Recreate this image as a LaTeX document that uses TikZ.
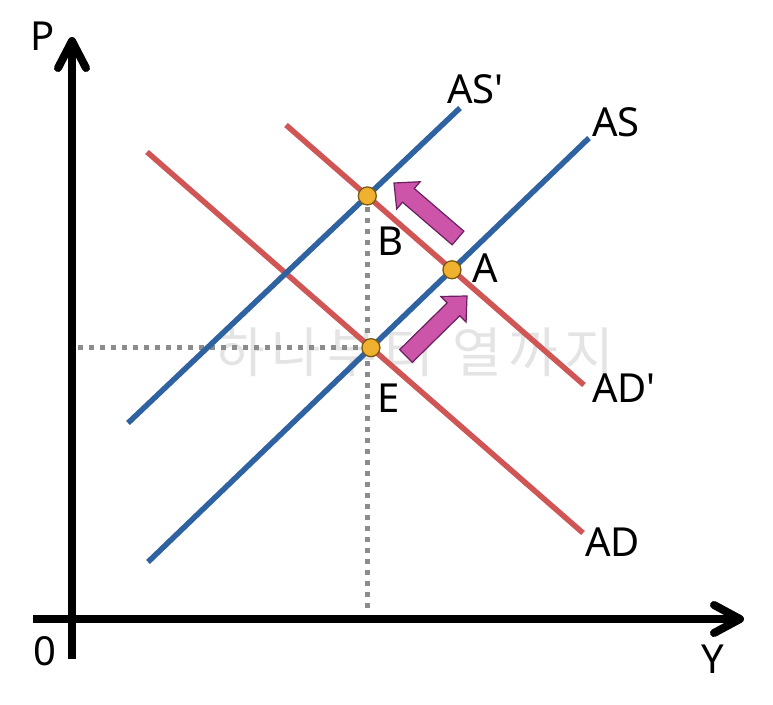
\documentclass[tikz,border=0pt]{standalone}
\usepackage{fontspec}
\setmainfont{Noto Sans}
\newfontfamily\lblfont{Noto Sans}
\newfontfamily\krfont[LetterSpace=12]{Noto Sans CJK KR}
\usetikzlibrary{calc,intersections}
\definecolor{adred}{HTML}{D05656}
\definecolor{asblue}{HTML}{2F62A0}
\definecolor{dotorange}{HTML}{F0B030}
\definecolor{dotedge}{HTML}{7A5A10}
\definecolor{arrowpink}{HTML}{CC55AA}
\definecolor{arrowedge}{HTML}{6A1F5F}
\definecolor{guide}{HTML}{8C8C8C}
\definecolor{wmgray}{HTML}{E4E4E4}
\newcommand\blockarr[2]{%
  \path (#1) coordinate (bt) (#2) coordinate (bp);
  \path ($(bp)!19pt!(bt)$) coordinate (bn);
  \draw[blockarrow] ($(bt)!9pt!90:(bp)$) -- ($(bn)!9pt!-90:(bt)$) -- ($(bn)!18pt!-90:(bt)$)
    -- (bp) -- ($(bn)!18pt!90:(bt)$) -- ($(bn)!9pt!90:(bt)$) -- ($(bt)!9pt!-90:(bp)$) -- cycle;}
\begin{document}
\begin{tikzpicture}[x=1pt,y=-1pt,
  axis/.style={line width=8pt,black},
  axishead/.style={line width=8pt,black,line cap=round,line join=round},
  curvead/.style={line width=5.5pt,adred},
  curveas/.style={line width=5.5pt,asblue},
  guideline/.style={line width=5pt,guide,dash pattern=on 5pt off 6pt},
  eqpt/.style={circle,fill=dotorange,draw=dotedge,line width=1.3pt,minimum size=18pt,inner sep=0pt},
  lbl/.style={font=\lblfont\fontsize{40}{44}\selectfont,inner sep=0pt,anchor=base west},
  blockarrow/.style={fill=arrowpink,draw=arrowedge,line width=1.2pt,line join=miter}]
\useasboundingbox (0,0) rectangle (773,704);
% watermark
\node[font=\krfont\fontsize{54}{58}\selectfont,text=wmgray,inner sep=0pt] (wm) at (415,352) {하나부터 열까지};
% curve end points
\coordinate (as0) at (148,562);  \coordinate (as1) at (589,138);
\coordinate (asp0) at (128,423); \coordinate (asp1) at (460,108);
\coordinate (ad0) at (147,152);  \coordinate (ad1) at (583,533);
\coordinate (adp0) at (286,125); \coordinate (adp1) at (584,385);
\path[name path=as] (as0) -- (as1);
\path[name path=asp] (asp0) -- (asp1);
\path[name path=ad] (ad0) -- (ad1);
\path[name path=adp] (adp0) -- (adp1);
\path[name intersections={of=as and ad,by=E}];
\path[name intersections={of=as and adp,by=A}];
\path[name intersections={of=asp and adp,by=B}];
% guides
\coordinate (gx) at (78,0);
\coordinate (gy) at (0,612);
\draw[guideline] (E -| gx) -- (E);
\draw[guideline] (B) -- (B |- gy);
% curves
\draw[curvead] (ad0) -- (ad1);
\draw[curvead] (adp0) -- (adp1);
\draw[curveas] (as0) -- (as1);
\draw[curveas] (asp0) -- (asp1);
% equilibrium points
\node[eqpt] (ptE) at (E) {};
\node[eqpt] (ptA) at (A) {};
\node[eqpt] (ptB) at (B) {};
% block arrows
\coordinate (ar1t) at (406,356); \coordinate (ar1p) at (467,296);
\coordinate (ar2t) at (458,238); \coordinate (ar2p) at (394,183);
\blockarr{ar1t}{ar1p}
\blockarr{ar2t}{ar2p}
% axes
\coordinate (yb) at (72,659); \coordinate (yt) at (72,41);
\coordinate (xl) at (33,619);  \coordinate (xr) at (740,619);
\draw[axis] (yb) -- (yt);
\draw[axis] (xl) -- (xr);
\draw[axishead] (58,68) -- (yt) -- (86,68);
\draw[axishead] (714,605) -- (xr) -- (714,633);
% labels
\node[lbl] (lP) at (30,50) {P};
\node[lbl] (lO) at (33,665) {0};
\node[lbl] (lY) at (701,673) {Y};
\node[lbl] (lASp) at (447,103) {AS'};
\node[lbl] (lAS) at (592,136) {AS};
\node[lbl] (lADp) at (592,402) {AD'};
\node[lbl] (lAD) at (585,556) {AD};
\node[lbl] (lA) at (472,282) {A};
\node[lbl] (lB) at (377,255) {B};
\node[lbl] (lE) at (377,412) {E};
\end{tikzpicture}
\end{document}
